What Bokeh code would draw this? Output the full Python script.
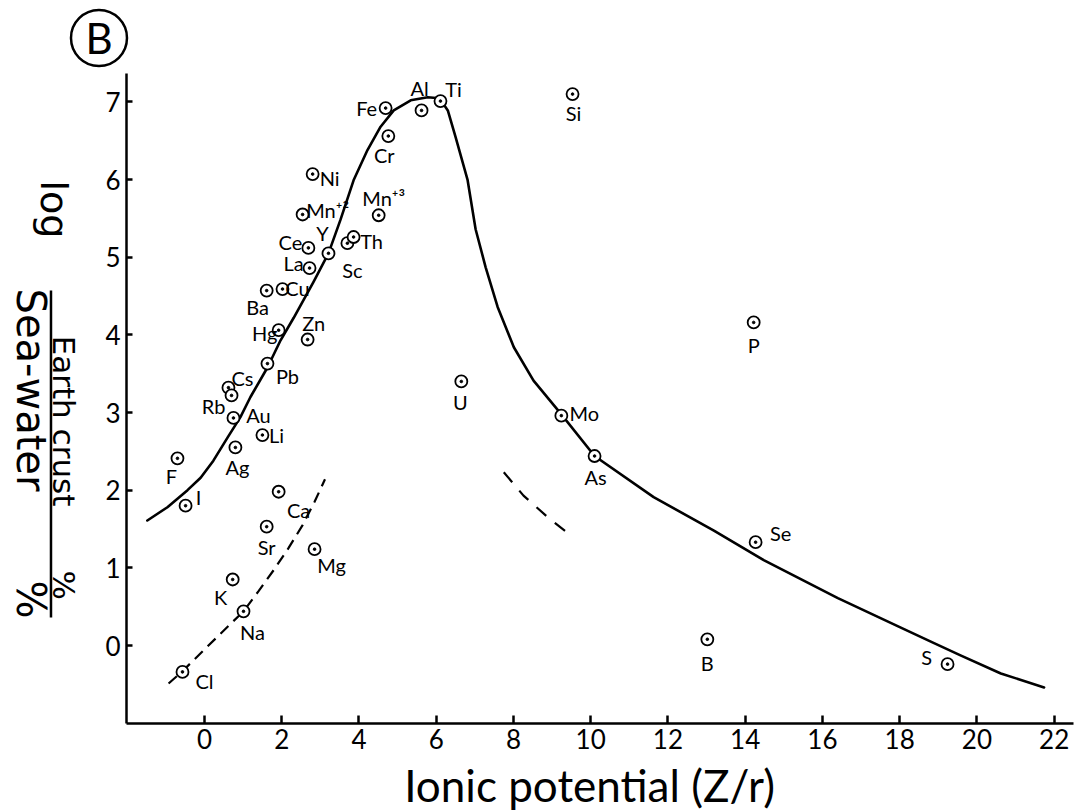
from bokeh.plotting import figure
from bokeh.models import ColumnDataSource, Range1d, LinearAxis, FixedTicker
from bokeh.core.properties import value
from bokeh.embed import file_html
from bokeh.resources import INLINE
import math

# ---- element data: ionic potential (Z/r) and log(earth crust % / sea-water %)
elements = ["Fe", "Al", "Ti", "Cr", "Ni", "Mn⁺²", "Mn⁺³", "Ce", "Y", "Sc", "Th",
            "La", "Ba", "Cu", "Hg", "Zn", "Pb", "Cs", "Rb", "Au", "Li", "Ag",
            "F", "I", "Ca", "Sr", "Mg", "K", "Na", "Cl", "U", "Si", "P", "Mo",
            "As", "Se", "B", "S"]
ionic_potential = [4.69, 5.62, 6.11, 4.76, 2.80, 2.54, 4.51, 2.69, 3.21, 3.70, 3.86,
                   2.72, 1.61, 2.02, 1.92, 2.67, 1.63, 0.62, 0.70, 0.75, 1.50, 0.80,
                   -0.70, -0.49, 1.92, 1.61, 2.85, 0.73, 1.01, -0.57, 6.65, 9.53,
                   14.22, 9.24, 10.10, 14.27, 13.02, 19.24]
log_ratio = [6.92, 6.89, 7.01, 6.56, 6.07, 5.55, 5.54, 5.12, 5.05, 5.18, 5.26,
             4.86, 4.57, 4.59, 4.06, 3.94, 3.63, 3.32, 3.22, 2.93, 2.71, 2.55,
             2.41, 1.80, 1.98, 1.53, 1.24, 0.85, 0.44, -0.34, 3.40, 7.10,
             4.16, 2.96, 2.44, 1.33, 0.08, -0.24]

# label placement relative to each point (screen pixels, +y is downward)
label_dx = [-19, -2, 13, -4, 17, 25, 5, -18, -6, 5, 18,
            -16, -9, 15, -14, 6, 20, 14, -18, 25, 14, 2,
            -6, 13, 20, 0, 17, -12, 9, 22, -1, 1, 0, 23,
            1, 25, 0, -21]
label_dy = [0, -22, -12, 19, 4, -4, -17, -6, -20, 27, 4,
            -5, 16, -1, 3, -17, 12, -10, 11, -3, 0, 20,
            18, -9, 18, 20, 16, 18, 21, 9, 21, 19, 23, -3,
            21, -9, 24, -7]

# ---- hand-fitted trend curves
main_curve_x = [-1.48, -0.96, -0.44, -0.10, 0.23, 0.60, 0.93, 1.19, 1.63, 1.97,
                2.31, 2.82, 3.21, 3.52, 3.86, 4.22, 4.56, 4.90, 5.34, 5.78,
                6.00, 6.15, 6.30, 6.50, 6.81, 7.02, 7.28, 7.59, 8.01, 8.52,
                9.22, 10.10, 11.63, 13.19, 14.48, 16.40, 18.03, 18.89, 19.59,
                20.62, 21.74]
main_curve_y = [1.61, 1.78, 2.00, 2.16, 2.38, 2.68, 2.94, 3.20, 3.58, 3.93,
                4.22, 4.68, 5.05, 5.48, 5.99, 6.38, 6.68, 6.89, 7.02, 7.06,
                7.05, 7.00, 6.89, 6.55, 6.00, 5.36, 4.87, 4.36, 3.84, 3.41,
                2.99, 2.44, 1.91, 1.48, 1.10, 0.61, 0.23, 0.03, -0.13,
                -0.36, -0.54]

alkali_curve_x = [-0.93, -0.57, -0.10, 0.41, 1.01, 1.40, 1.79, 2.17, 2.54, 2.85, 3.12]
alkali_curve_y = [-0.49, -0.33, -0.10, 0.15, 0.44, 0.70, 0.97, 1.25, 1.55, 1.85, 2.14]

anion_curve_x = [7.75, 8.26, 8.89, 9.48]
anion_curve_y = [2.23, 1.93, 1.65, 1.42]

x_ticks = [0, 2, 4, 6, 8, 10, 12, 14, 16, 18, 20, 22]
y_ticks = [0, 1, 2, 3, 4, 5, 6, 7]

FONT = "Lato"
TITLE_FONT = "DejaVu Sans"

# the frame fills the canvas; axes sit at fixed data positions inside it
p = figure(width=1074, height=811, output_backend="svg", toolbar_location=None,
           x_range=Range1d(-5.2822, 22.527), y_range=Range1d(-2.1375, 8.3054),
           x_axis_type=None, y_axis_type=None,
           min_border=0, min_border_left=0, min_border_right=0,
           min_border_top=0, min_border_bottom=0)
p.outline_line_color = None
p.background_fill_color = "white"
p.border_fill_color = "white"
p.xgrid.visible = False
p.ygrid.visible = False

xaxis = LinearAxis(ticker=FixedTicker(ticks=x_ticks), fixed_location=-1.0,
                   bounds=(-2.02, 22.5))
yaxis = LinearAxis(ticker=FixedTicker(ticks=y_ticks), fixed_location=-2.02,
                   bounds=(-1.0, 7.37))
for ax, tick_in in ((xaxis, 8), (yaxis, 6)):
    ax.axis_line_width = 2.5
    ax.axis_line_color = "black"
    ax.major_tick_in = tick_in
    ax.major_tick_out = 0
    ax.major_tick_line_width = 2.5
    ax.minor_tick_line_color = None
    ax.major_label_text_font = FONT
    ax.major_label_text_font_size = "26px"
    ax.major_label_text_color = "black"
    ax.major_label_standoff = 6
p.add_layout(xaxis, "below")
p.add_layout(yaxis, "left")

# curves
p.line(main_curve_x, main_curve_y, line_color="black", line_width=2.6,
       line_join="round", line_cap="round")
p.line(alkali_curve_x, alkali_curve_y, line_color="black", line_width=2.2,
       line_dash="11 7")
p.line(anion_curve_x, anion_curve_y, line_color="black", line_width=2.2,
       line_dash="13 11")

# points: open circle with a dot in the middle
src = ColumnDataSource(dict(x=ionic_potential, y=log_ratio, name=elements,
                            dx=label_dx, dy=label_dy))
p.scatter("x", "y", source=src, marker="circle", size=12, fill_color="white",
          line_color="black", line_width=1.8)
p.scatter("x", "y", source=src, marker="circle", size=2.6, fill_color="black",
          line_color="black")
p.text("x", "y", text="name", source=src, x_offset="dx", y_offset="dy",
       text_align="center", text_baseline="middle",
       text_font=value(FONT), text_font_size="20px", text_color="black")


def caption(x, y, txt, size, angle=0.0, align="center", font=FONT):
    p.text([x], [y], text=[txt], angle=angle, text_align=align,
           text_baseline="middle", text_font=value(font),
           text_font_size=size, text_color="black")


# x-axis title
caption(9.97, -1.80, "Ionic potential (Z/r)", "44px")

# y-axis title: log (Earth crust % / Sea-water %), read top to bottom
rot = -math.pi / 2
caption(-3.902, 5.988, "log", "38px", rot, "left", TITLE_FONT)
caption(-3.646, 3.99, "Earth crust", "31px", rot, "left", TITLE_FONT)
caption(-3.646, 0.966, "%", "31px", rot, "left", TITLE_FONT)
caption(-4.482, 4.597, "Sea-water", "40px", rot, "left", TITLE_FONT)
caption(-4.482, 0.837, "%", "40px", rot, "left", TITLE_FONT)
p.line([-3.975, -3.975], [4.571, 0.361], line_color="black", line_width=2.5)

# panel letter in a circle
p.scatter([-2.732], [7.823], marker="circle", size=56, fill_color=None,
          line_color="black", line_width=2.5)
caption(-2.732, 7.823, "B", "42px")

open("out.html", "w").write(file_html(p, INLINE))
